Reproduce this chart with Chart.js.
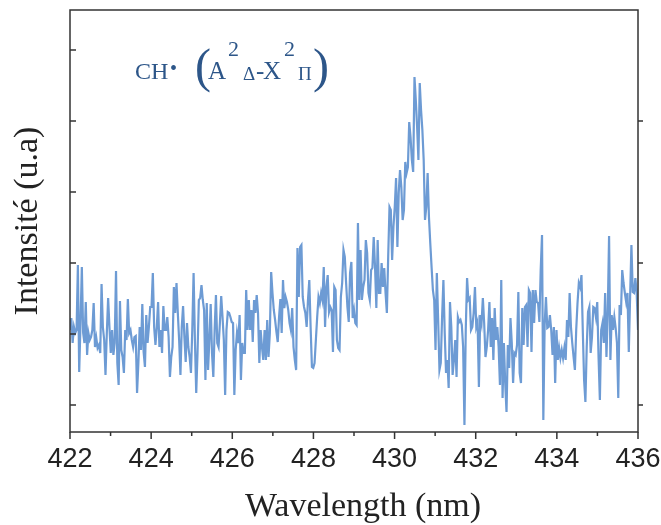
<!DOCTYPE html>
<html><head><meta charset="utf-8">
<script src="https://cdn.jsdelivr.net/npm/chart.js@4/dist/chart.umd.min.js"></script>
<style>html,body{margin:0;padding:0;background:#fff;}#wrap{width:661px;height:525px;}</style>
</head><body><div id="wrap"><canvas id="c" width="661" height="525"></canvas></div>
<script>
// ---- data ----
const xTitle = 'Wavelength (nm)';
const yTitle = 'Intensité (u.a)';
const xMin = 422, xMax = 436;
const xTickValues = [422, 424, 426, 428, 430, 432, 434, 436];
const xMinorTickValues = [423, 425, 427, 429, 431, 433, 435];
const yMin = -27, yMax = 395;
const yLeftTicks = [0, 71, 142, 213, 284, 355];
const yRightTicks = [0, 142, 284];

const seg1 = [75,87,62,78,72,75,140,33,82,138,72,62,103,50,72,65,68,75,102,58,67,57,60,52,121,78,65,30,72,107,78,52,75,50,62,134,42,20,104,55,48,32,75,65,106,72,75,65,58,68,69,12,42,78,55,101,53,38,90,62,78,98,98,132,78,60,78,103,58,75,52,99,75];
const seg2 = [75,88,68,28,48,58,118,92,122,92,65,30,78,99,68,43,82,58,48,32,75,132,65,12,52,105,107,120,105,95,25,102,35,65,101,52,28,75,110,62,58,82,109,88,65,10,75,93,92,88,83,82,10,55,72,62,90,25,62,52,52,115,75,105,75,95,63,105,92,110,92,42,75,58];
const seg3 = [45,75,45,85,48,72,133,112,95,85,73,63,88,106,72,125,97,108,103,95,82,75,97,58,45,35,157,108,158,160,108,98,92,78,105,125,78,38,37,42,65,88,108,102,112,105,138,78,118,130,93,98,95,53,118,115,65,57,55,108,122,155,148,122,98,83,132,143,87,95,82,80,182,105,155];
const seg4 = [105,118,125,165,152,112,105,135,137,168,138,97,165,112,112,142,118,137,112,92,148,198,195,145,178,198,227,158,212,235,218,185,195,243,232,238,283,268,245,233,328,305,278,245,322,295,275,245,185,198,232,188,162,138,115,105,55,132,85,35,42,88,125,72,32,45,17,103,78,30,45,65,28];
const seg5 = [88,83,85,80,58,-20,75,127,105,107,75,78,92,118,78,83,18,90,82,107,82,48,58,75,103,58,87,45,97,65,78,58,20,125,7,62,22,-7,60,37,87,62,22,52,50,60,113,32,22,97,60,98,100,58,115,112,53,115,82,115,103,102,83,135,170,-15,80,108,77,78,90,75];
const seg6 = [50,78,22,75,45,57,47,55,47,57,45,85,68,112,78,62,48,35,75,102,122,118,130,75,25,3,58,93,98,52,68,98,97,88,103,48,5,75,82,62,112,48,92,169,45,90,75,88,77,62,7,100,90,135,122,112,103,112,53,108,160,113,112,127,112,75];

const intensity = [].concat(seg1, seg2, seg3, seg4, seg5, seg6);
// uniform spectrometer wavelength grid over the recorded range
const wavelength = intensity.map((_, i) => xMin + i * (xMax - xMin) / (intensity.length - 1));
const points = intensity.map((v, i) => ({x: wavelength[i], y: v}));

const lineColor = '#6d9bd4';
const axisColor = '#333333';
const annColor = '#2d5689';
const serif = 'Liberation Serif, Times New Roman, serif';

const framePlugin = {
  id: 'frame',
  afterDatasetsDraw(chart) {
    const ctx = chart.ctx, a = chart.chartArea;
    const xs = chart.scales.x, ys = chart.scales.y;
    ctx.save();
    ctx.strokeStyle = axisColor;
    ctx.lineWidth = 1.5;
    ctx.strokeRect(a.left, a.top, a.right - a.left, a.bottom - a.top);
    ctx.beginPath();
    xTickValues.forEach(v => { const p = xs.getPixelForValue(v); ctx.moveTo(p, a.bottom); ctx.lineTo(p, a.bottom + 7); });
    xMinorTickValues.forEach(v => { const p = xs.getPixelForValue(v); ctx.moveTo(p, a.bottom); ctx.lineTo(p, a.bottom + 4); });
    yLeftTicks.forEach(v => { const p = ys.getPixelForValue(v); ctx.moveTo(a.left, p); ctx.lineTo(a.left + 6, p); });
    yRightTicks.forEach(v => { const p = ys.getPixelForValue(v); ctx.moveTo(a.right, p); ctx.lineTo(a.right + 5, p); });
    ctx.stroke();
    // x-axis title (slightly right of centre, as in the original figure)
    ctx.fillStyle = '#222';
    ctx.font = '34px ' + serif;
    ctx.textAlign = 'center';
    ctx.textBaseline = 'alphabetic';
    ctx.fillText(xTitle, (a.left + a.right) / 2 + 9, 516);
    ctx.restore();
  }
};

const annotationPlugin = {
  id: 'annot',
  afterDraw(chart) {
    const ctx = chart.ctx;
    ctx.save();
    ctx.fillStyle = annColor;
    ctx.textBaseline = 'alphabetic';
    ctx.textAlign = 'left';
    const parts = [
      ['CH', 24, 135, 79],
      ['\u2022', 20, 170, 75],
      ['(', 48, 195, 82],
      ['A', 25, 208, 79],
      ['2', 22, 228, 56],
      ['\u0394', 19, 243, 80],
      ['-', 25, 256, 79],
      ['X', 25, 263, 79],
      ['2', 22, 284, 56],
      ['\u03A0', 19, 298, 80],
      [')', 48, 313, 82]
    ];
    parts.forEach(([t, s, x, y]) => { ctx.font = s + 'px ' + serif; ctx.fillText(t, x, y); });
    ctx.restore();
  }
};

new Chart(document.getElementById('c'), {
  type: 'line',
  data: { datasets: [{ data: points, borderColor: lineColor, borderWidth: 2.2, pointRadius: 0, tension: 0, fill: false }] },
  options: {
    responsive: false,
    animation: false,
    devicePixelRatio: 1,
    layout: { padding: { top: 10, right: 23, left: 0, bottom: 0 } },
    plugins: { legend: { display: false }, tooltip: { enabled: false } },
    scales: {
      x: {
        type: 'linear', min: xMin, max: xMax,
        grid: { display: false, drawTicks: false },
        border: { display: false },
        afterBuildTicks: s => { s.ticks = xTickValues.map(v => ({value: v})); },
        ticks: { padding: 11, color: '#222', font: { family: 'Liberation Sans Narrow, Liberation Sans, Arial, sans-serif', size: 27 }, maxRotation: 0, autoSkip: false },
        title: { display: false, text: xTitle },
        afterFit: s => { s.height = 93; s.paddingLeft = 0; s.paddingRight = 0; }
      },
      y: {
        type: 'linear', min: yMin, max: yMax,
        grid: { display: false, drawTicks: false },
        border: { display: false },
        ticks: { display: false },
        title: { display: true, text: yTitle, color: '#222', font: { family: serif, size: 34, lineHeight: 1 }, padding: { top: 11, bottom: 0 } },
        afterFit: s => { s.width = 70; }
      }
    }
  },
  plugins: [framePlugin, annotationPlugin]
});
</script></body></html>
